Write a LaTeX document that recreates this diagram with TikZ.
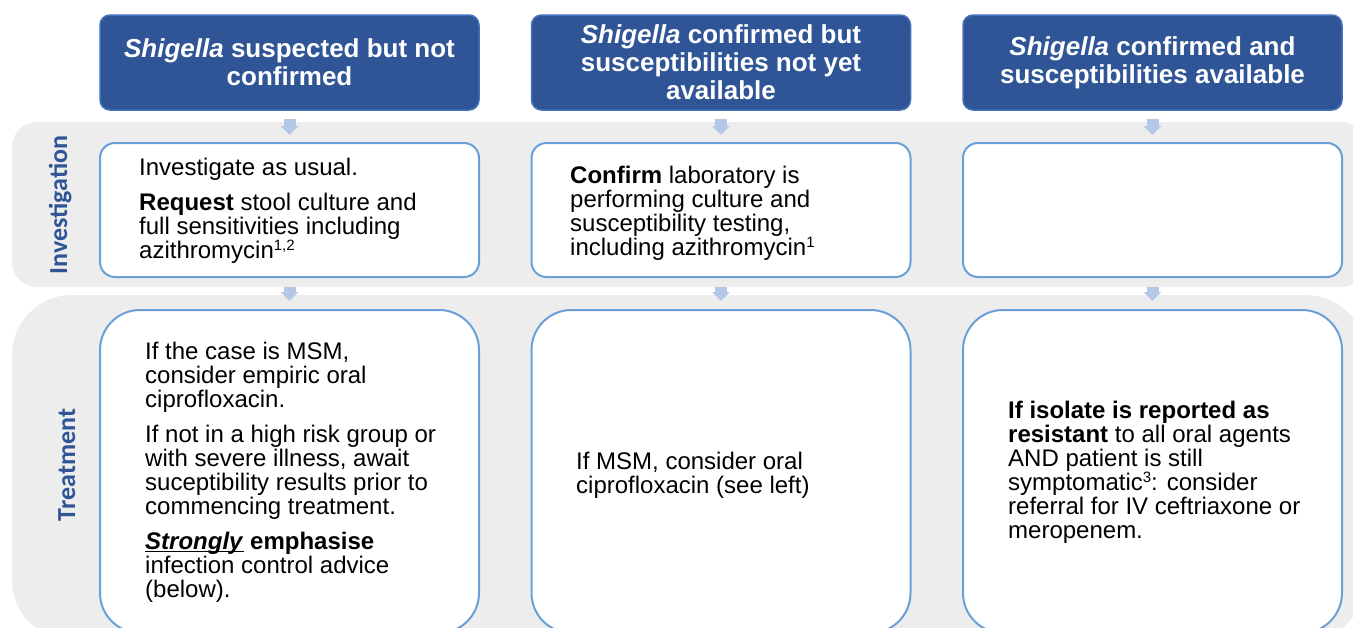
\documentclass[tikz,border=0pt]{standalone}
\usepackage{fontspec}
\setmainfont{Liberation Sans}
\newfontfamily\bandfont{Carlito}
\usepackage{xcolor}
\usetikzlibrary{arrows.meta}

\definecolor{hdrblue}{RGB}{47,85,151}
\definecolor{hdredge}{RGB}{68,114,186}
\definecolor{bandgray}{RGB}{237,237,237}
\definecolor{boxedge}{RGB}{106,160,216}
\definecolor{arrowblue}{RGB}{180,199,231}

% underline close to the baseline
\newsavebox\ulbox
\newcommand\ulword[1]{\sbox\ulbox{#1}\rlap{\rule[-3pt]{\wd\ulbox}{1.4pt}}\usebox\ulbox}
% small raised note number
\newcommand\notenum[1]{\raisebox{8pt}{\fontsize{15}{15}\selectfont #1}}

\tikzset{
  hdr/.style={draw=hdredge, line width=1.5pt, fill=hdrblue, rounded corners=10pt,
    minimum width=379pt, minimum height=95pt, text=white, align=center,
    font=\fontsize{26}{28}\selectfont\bfseries},
  invbox/.style={draw=boxedge, line width=2pt, fill=white, rounded corners=15pt,
    minimum width=379pt, minimum height=134pt},
  treatbox/.style={invbox, rounded corners=40pt, minimum height=323pt},
  body/.style={anchor=west, align=left, inner sep=0pt, font=\fontsize{24}{24}\selectfont},
  band/.style={fill=bandgray, rounded corners=#1},
  bandlabel/.style={rotate=90, anchor=base, text=hdrblue,
    font=\bandfont\fontsize{26}{26}\selectfont\bfseries},
  flow/.style={draw=arrowblue, line width=12pt, -{Triangle[length=9pt,width=17pt]}}
}

\begin{document}
\begin{tikzpicture}[x=1pt,y=1pt,yscale=-1,xscale=1]
\useasboundingbox (0,0) rectangle (1353,627);
\clip (0,0) rectangle (1353,627);

%Shape: Bands
\fill[band=25pt] (12,122) rectangle (1366,287);
\fill[band=60pt] (12,295) rectangle (1366,640);

% Text Node: band labels
\node[bandlabel] (lblinv) at (67,205) {Investigation};
\node[bandlabel] (lbltreat) at (75,465) {Treatment};

%Shape: Headers
\node[hdr] (hdr1) at (289.5,62.5) {\textit{Shigella} suspected but not\\confirmed};
\node[hdr] (hdr2) at (721,62.5) {\textit{Shigella} confirmed but\\susceptibilities not yet\\available};
\node[hdr] (hdr3) at (1152.5,62.5) {\textit{Shigella} confirmed and\\susceptibilities available};

%Shape: Investigation boxes
\node[invbox] (inv1) at (289.5,210) {};
\node[invbox] (inv2) at (721,210) {};
\node[invbox] (inv3) at (1152.5,210) {};

%Shape: Treatment boxes
\node[treatbox] (treat1) at (289.5,471.5) {};
\node[treatbox] (treat2) at (721,471.5) {};
\node[treatbox] (treat3) at (1152.5,471.5) {};

%Straight Lines: block arrows
\foreach \c in {1,2,3}{
  \draw[flow, shorten <=8pt, shorten >=7pt] (hdr\c.south) -- (inv\c.north);
  \draw[flow, shorten <=9pt, shorten >=8pt] (inv\c.south) -- (treat\c.north);
}

% Text Node
\node[body] (invtxt1) at (139,211) {Investigate as usual.\\[11pt]
  \textbf{Request} stool culture and\\
  full sensitivities including\\
  azithromycin\notenum{1,2}};
% Text Node
\node[body] (invtxt2) at (570,213) {\textbf{Confirm} laboratory is\\
  performing culture and\\
  susceptibility testing,\\
  including azithromycin\notenum{1}};
% Text Node
\node[body] (treattxt1) at (145,472) {If the case is MSM,\\
  consider empiric oral\\
  ciprofloxacin.\\[11pt]
  If not in a high risk group or\\
  with severe illness, await\\
  suceptibility results prior to\\
  commencing treatment.\\[11pt]
  \textbf{\ulword{\textit{Strongly}}} \textbf{emphasise}\\
  infection control advice\\
  (below).};
% Text Node
\node[body] (treattxt2) at (576,475) {If MSM, consider oral\\
  ciprofloxacin (see left)};
% Text Node
\node[body] (treattxt3) at (1008,472) {\textbf{If isolate is reported as}\\
  \textbf{resistant} to all oral agents\\
  AND patient is still\\
  symptomatic\notenum{3}: consider\\
  referral for IV ceftriaxone or\\
  meropenem.};

\end{tikzpicture}
\end{document}
